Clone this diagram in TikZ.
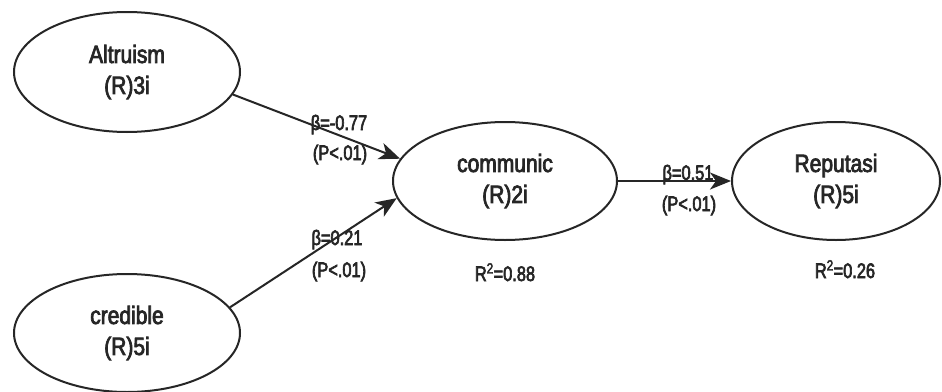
\documentclass[tikz,border=0pt]{standalone}
\usepackage{fontspec}
\setmainfont{Liberation Sans}
\newfontfamily\nodefont[FakeStretch=0.84,FakeBold=3]{Liberation Sans}
\newfontfamily\coeffont[FakeStretch=0.78,FakeBold=3]{Liberation Sans}
\usetikzlibrary{arrows.meta,shapes.geometric}
\begin{document}
\begin{tikzpicture}[x=1pt,y=-1pt,
  latent/.style={ellipse, draw=black!85, line width=2pt, inner sep=0pt,
    align=center, text=black!85, font=\nodefont\fontsize{25}{31}\selectfont},
  link/.style={draw=black!85, line width=2pt,
    -{Stealth[length=21pt,width=17pt,inset=6pt]}},
  coef/.style={anchor=base, inner sep=0pt, text=black!85,
    font=\coeffont\fontsize{21}{24}\selectfont}
]
\useasboundingbox (0,0) rectangle (942,391);
\fill[white] (0,0) rectangle (942,391);
\begin{scope}
\clip (0,0) rectangle (942,391);

% latent variables
\node[latent, minimum width=226pt, minimum height=120pt] (alt)  at (127,72)  {Altruism\\(R)3i};
\node[latent, minimum width=226pt, minimum height=118pt] (cred) at (127,333) {credible\\(R)5i};
\node[latent, minimum width=224pt, minimum height=118pt] (com)  at (505,181) {communic\\(R)2i};
\node[latent, minimum width=208pt, minimum height=118pt] (rep)  at (836,181) {Reputasi\\(R)5i};

% structural paths
\draw[link] (alt.-12) -- (com.168.5);
\draw[link] (cred.14) -- (com.189);
\draw[link] (com.east) -- (rep.west);

% path coefficients
\node[coef] (b1) at (339,130) {β=-0.77};
\node[coef] (p1) at (340,160) {(P<.01)};
\node[coef] (b2) at (337,245) {β=0.21};
\node[coef] (p2) at (339,277) {(P<.01)};
\node[coef] (b3) at (688,180) {β=0.51};
\node[coef] (p3) at (689,211) {(P<.01)};

% explained variance
\node[coef] (r1) at (505,281) {R\textsuperscript{2}=0.88};
\node[coef] (r2) at (845,278) {R\textsuperscript{2}=0.26};
\end{scope}
\end{tikzpicture}
\end{document}
